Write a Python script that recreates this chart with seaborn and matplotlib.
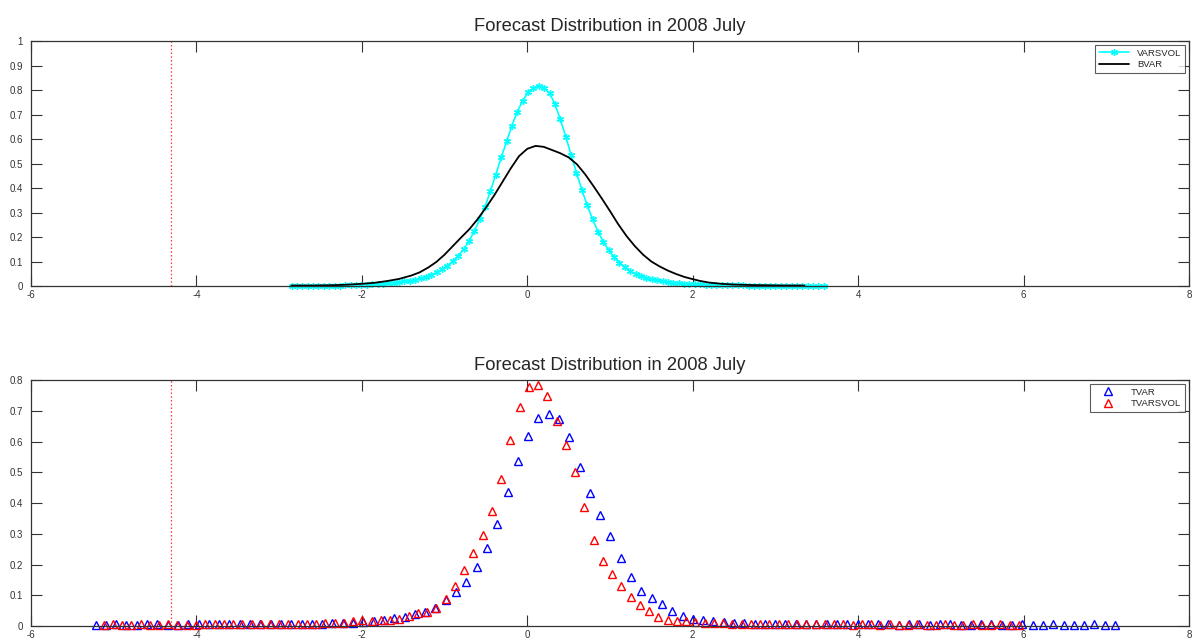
import matplotlib
matplotlib.use('Agg')
import matplotlib.pyplot as plt
import seaborn as sns

# top panel: VARSVOL kernel density (100-point grid) and BVAR density
varsvol_x = [-2.850, -2.785, -2.720, -2.655, -2.590, -2.525, -2.460, -2.395, -2.330, -2.265,
             -2.200, -2.135, -2.070, -2.005, -1.940, -1.875, -1.810, -1.745, -1.680, -1.615,
             -1.550, -1.485, -1.420, -1.355, -1.290, -1.225, -1.160, -1.095, -1.030, -0.965,
             -0.900, -0.835, -0.770, -0.705, -0.640, -0.575, -0.510, -0.445, -0.380, -0.315,
             -0.250, -0.185, -0.120, -0.055, 0.010, 0.075, 0.140, 0.205, 0.270, 0.335,
             0.400, 0.465, 0.530, 0.595, 0.660, 0.725, 0.790, 0.855, 0.920, 0.985,
             1.050, 1.115, 1.180, 1.245, 1.310, 1.375, 1.440, 1.505, 1.570, 1.635,
             1.700, 1.765, 1.830, 1.895, 1.960, 2.025, 2.090, 2.155, 2.220, 2.285,
             2.350, 2.415, 2.480, 2.545, 2.610, 2.675, 2.740, 2.805, 2.870, 2.935,
             3.000, 3.065, 3.130, 3.195, 3.260, 3.325, 3.390, 3.455, 3.520, 3.585]
varsvol_y = [0.001, 0.001, 0.001, 0.001, 0.001, 0.002, 0.002, 0.002, 0.002, 0.002,
             0.003, 0.003, 0.004, 0.005, 0.006, 0.007, 0.009, 0.010, 0.012, 0.014,
             0.016, 0.019, 0.022, 0.026, 0.031, 0.037, 0.045, 0.056, 0.068, 0.083,
             0.101, 0.123, 0.150, 0.184, 0.224, 0.272, 0.324, 0.389, 0.455, 0.525,
             0.590, 0.655, 0.712, 0.757, 0.790, 0.808, 0.816, 0.810, 0.787, 0.742,
             0.680, 0.610, 0.535, 0.462, 0.392, 0.330, 0.272, 0.222, 0.180, 0.146,
             0.118, 0.095, 0.077, 0.062, 0.050, 0.041, 0.034, 0.028, 0.023, 0.019,
             0.016, 0.014, 0.012, 0.010, 0.009, 0.008, 0.007, 0.006, 0.005, 0.005,
             0.004, 0.004, 0.003, 0.003, 0.003, 0.002, 0.002, 0.002, 0.002, 0.002,
             0.001, 0.001, 0.001, 0.001, 0.001, 0.001, 0.001, 0.001, 0.001, 0.001]

bvar_x = [-2.85, -2.60, -2.40, -2.20, -2.00, -1.85, -1.70, -1.55, -1.40, -1.30,
          -1.20, -1.10, -1.00, -0.90, -0.80, -0.70, -0.60, -0.50, -0.40, -0.30,
          -0.20, -0.10, 0.00, 0.10, 0.20, 0.30, 0.40, 0.50, 0.60, 0.70,
          0.80, 0.90, 1.00, 1.10, 1.20, 1.30, 1.40, 1.50, 1.60, 1.70,
          1.80, 1.90, 2.00, 2.10, 2.20, 2.35, 2.50, 2.70, 2.90, 3.10, 3.35]
bvar_y = [0.002, 0.002, 0.003, 0.005, 0.009, 0.013, 0.020, 0.029, 0.043, 0.056,
          0.075, 0.098, 0.128, 0.163, 0.198, 0.232, 0.273, 0.320, 0.370, 0.425,
          0.480, 0.530, 0.560, 0.572, 0.568, 0.555, 0.542, 0.525, 0.497, 0.456,
          0.408, 0.358, 0.306, 0.252, 0.204, 0.163, 0.128, 0.100, 0.080, 0.063,
          0.049, 0.037, 0.028, 0.020, 0.014, 0.009, 0.006, 0.004, 0.003, 0.002, 0.002]

# bottom panel: TVAR and TVARSVOL densities
tvar_x = [-5.219, -5.095, -4.970, -4.846, -4.721, -4.597, -4.472, -4.348, -4.223, -4.099,
          -3.974, -3.850, -3.725, -3.601, -3.476, -3.352, -3.227, -3.103, -2.978, -2.854,
          -2.729, -2.605, -2.480, -2.356, -2.231, -2.107, -1.982, -1.858, -1.733, -1.609,
          -1.484, -1.360, -1.235, -1.111, -0.986, -0.862, -0.737, -0.613, -0.488, -0.364,
          -0.239, -0.115, 0.010, 0.134, 0.259, 0.383, 0.508, 0.632, 0.757, 0.881,
          1.006, 1.130, 1.255, 1.379, 1.504, 1.628, 1.753, 1.877, 2.002, 2.126,
          2.251, 2.375, 2.500, 2.624, 2.749, 2.873, 2.998, 3.122, 3.247, 3.371,
          3.496, 3.620, 3.745, 3.869, 3.994, 4.118, 4.243, 4.367, 4.492, 4.616,
          4.741, 4.865, 4.990, 5.114, 5.239, 5.363, 5.488, 5.612, 5.737, 5.861,
          5.986, 6.110, 6.235, 6.359, 6.484, 6.608, 6.733, 6.857, 6.982, 7.106]
tvar_y = [0.004, 0.004, 0.005, 0.004, 0.004, 0.005, 0.005, 0.004, 0.004, 0.005,
          0.005, 0.005, 0.005, 0.006, 0.006, 0.006, 0.007, 0.007, 0.007, 0.007,
          0.007, 0.007, 0.008, 0.009, 0.010, 0.011, 0.013, 0.016, 0.020, 0.025,
          0.030, 0.039, 0.045, 0.058, 0.084, 0.110, 0.142, 0.193, 0.253, 0.332,
          0.435, 0.538, 0.618, 0.676, 0.691, 0.674, 0.616, 0.518, 0.433, 0.361,
          0.293, 0.221, 0.159, 0.115, 0.091, 0.071, 0.049, 0.031, 0.023, 0.020,
          0.016, 0.012, 0.010, 0.009, 0.008, 0.008, 0.007, 0.007, 0.006, 0.006,
          0.006, 0.005, 0.005, 0.006, 0.005, 0.005, 0.005, 0.005, 0.004, 0.005,
          0.005, 0.004, 0.005, 0.005, 0.004, 0.004, 0.005, 0.005, 0.004, 0.004,
          0.005, 0.004, 0.004, 0.005, 0.004, 0.004, 0.004, 0.005, 0.004, 0.004]

tvarsvol_x = [-5.123, -5.011, -4.899, -4.788, -4.676, -4.564, -4.452, -4.340, -4.229, -4.117,
              -4.005, -3.893, -3.781, -3.670, -3.558, -3.446, -3.334, -3.222, -3.111, -2.999,
              -2.887, -2.775, -2.663, -2.552, -2.440, -2.328, -2.216, -2.104, -1.993, -1.881,
              -1.769, -1.657, -1.545, -1.434, -1.322, -1.210, -1.098, -0.986, -0.875, -0.763,
              -0.651, -0.539, -0.427, -0.316, -0.204, -0.092, 0.020, 0.131, 0.243, 0.355,
              0.467, 0.579, 0.690, 0.802, 0.914, 1.026, 1.138, 1.249, 1.361, 1.473,
              1.585, 1.697, 1.808, 1.920, 2.032, 2.144, 2.256, 2.367, 2.479, 2.591,
              2.703, 2.815, 2.926, 3.038, 3.150, 3.262, 3.374, 3.485, 3.597, 3.709,
              3.821, 3.933, 4.044, 4.156, 4.268, 4.380, 4.492, 4.603, 4.715, 4.827,
              4.939, 5.051, 5.162, 5.274, 5.386, 5.498, 5.609, 5.721, 5.833, 5.945]
tvarsvol_y = [0.004, 0.005, 0.004, 0.004, 0.005, 0.004, 0.004, 0.005, 0.004, 0.004,
              0.004, 0.005, 0.005, 0.005, 0.005, 0.005, 0.006, 0.005, 0.006, 0.006,
              0.006, 0.007, 0.007, 0.008, 0.009, 0.009, 0.011, 0.016, 0.019, 0.016,
              0.021, 0.021, 0.024, 0.033, 0.042, 0.047, 0.060, 0.088, 0.130, 0.182,
              0.237, 0.296, 0.374, 0.478, 0.605, 0.713, 0.777, 0.784, 0.749, 0.667,
              0.590, 0.502, 0.386, 0.280, 0.213, 0.170, 0.130, 0.096, 0.069, 0.048,
              0.030, 0.021, 0.017, 0.016, 0.013, 0.011, 0.010, 0.009, 0.008, 0.008,
              0.007, 0.007, 0.006, 0.006, 0.006, 0.005, 0.006, 0.005, 0.005, 0.005,
              0.005, 0.004, 0.005, 0.005, 0.004, 0.005, 0.004, 0.004, 0.005, 0.004,
              0.004, 0.005, 0.004, 0.004, 0.005, 0.004, 0.004, 0.005, 0.004, 0.004]

cutoff = -4.305  # red dotted marker line
title = 'Forecast Distribution in 2008 July'

sns.set_style('ticks')
plt.rcParams['font.family'] = ['Liberation Sans', 'DejaVu Sans']
plt.rcParams['axes.unicode_minus'] = False

fig = plt.figure(figsize=(11.93, 6.39), dpi=100)
ax1 = fig.add_axes([0.026, 0.5524, 0.9706, 0.3834])
ax2 = fig.add_axes([0.026, 0.0203, 0.9706, 0.385])

# Top panel
sns.lineplot(x=varsvol_x, y=varsvol_y, ax=ax1, color='#00FFFF', lw=1.2,
             marker=(6, 2, 0), markersize=5, mec='#00FFFF', mew=1.0,
             label='VARSVOL', errorbar=None, sort=False)
sns.lineplot(x=bvar_x, y=bvar_y, ax=ax1, color='black', lw=1.3,
             label='BVAR', errorbar=None, sort=False)
ax1.axvline(cutoff, color='red', ls=(0, (1.2, 1.8)), lw=0.9, alpha=0.8)
ax1.set_xlim(-6, 8)
ax1.set_ylim(0, 1)
ax1.set_yticks([0, 0.1, 0.2, 0.3, 0.4, 0.5, 0.6, 0.7, 0.8, 0.9, 1])
ax1.set_yticklabels(['0', '0.1', '0.2', '0.3', '0.4', '0.5', '0.6', '0.7', '0.8', '0.9', '1'])

# Bottom panel
sns.lineplot(x=tvar_x, y=tvar_y, ax=ax2, color='blue', linestyle='',
             marker='^', markersize=5.5, mfc='none', mec='blue', mew=1.0,
             label='TVAR', errorbar=None, sort=False)
sns.lineplot(x=tvarsvol_x, y=tvarsvol_y, ax=ax2, color='red', linestyle='',
             marker='^', markersize=5.5, mfc='none', mec='red', mew=1.0,
             label='TVARSVOL', errorbar=None, sort=False)
ax2.axvline(cutoff, color='red', ls=(0, (1.2, 1.8)), lw=0.9, alpha=0.8)
ax2.set_xlim(-6, 8)
ax2.set_ylim(0, 0.8)
ax2.set_yticks([0, 0.1, 0.2, 0.3, 0.4, 0.5, 0.6, 0.7, 0.8])
ax2.set_yticklabels(['0', '0.1', '0.2', '0.3', '0.4', '0.5', '0.6', '0.7', '0.8'])

for ax in (ax1, ax2):
    for ln in ax.lines:
        ln.set_clip_on(False)
    ax.set_xticks([-6, -4, -2, 0, 2, 4, 6, 8])
    ax.tick_params(direction='in', length=8, width=0.8, top=True, right=True,
                   labelsize=7, colors='#333333')
    ax.tick_params(axis='y', pad=6)
    ax.tick_params(axis='x', pad=3)
    for s in ax.spines.values():
        s.set_visible(True)
        s.set_color('#333333')
        s.set_linewidth(0.9)
    ax.set_title(title, fontsize=13.2, pad=7)
    ax.set_xlabel('')
    ax.set_ylabel('')
    leg = ax.legend(loc='upper right', fontsize=6.8, frameon=True, fancybox=False,
                    edgecolor='#333333', borderaxespad=0.4, handlelength=3.2,
                    borderpad=0.4, labelspacing=0.3)
    leg.get_frame().set_linewidth(0.8)

fig.savefig('out.png', dpi=100)
